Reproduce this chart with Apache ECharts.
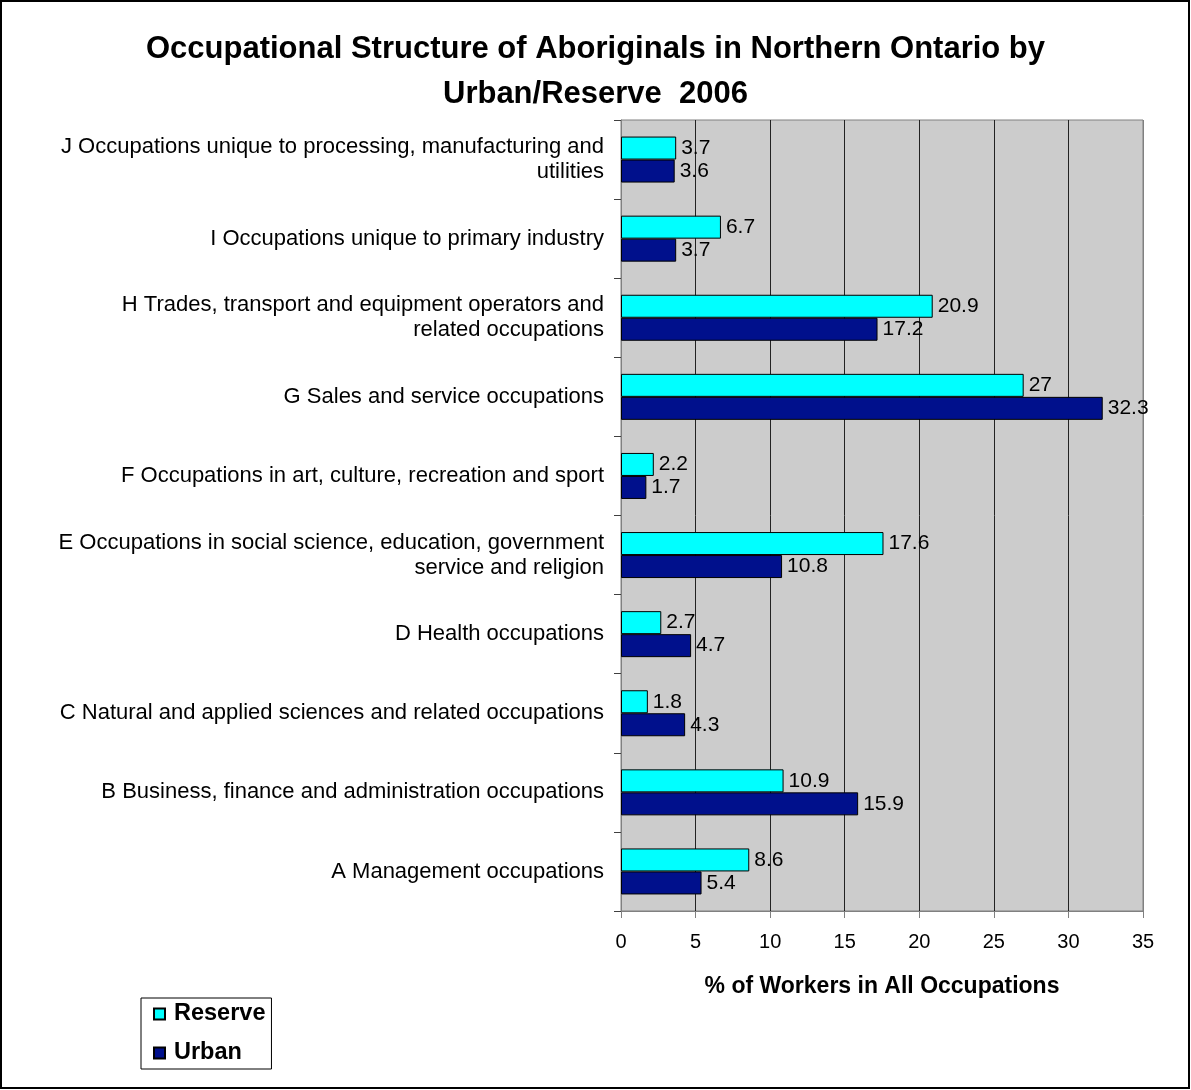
<!DOCTYPE html>
<html>
<head>
<meta charset="utf-8">
<script src="https://cdn.jsdelivr.net/npm/echarts@6/dist/echarts.min.js"></script>
<style>
html,body{margin:0;padding:0;background:#fff;}
#chart{width:1191px;height:1090px;}
</style>
</head>
<body>
<div id="chart"></div>
<script>
const categories = [
  "A Management occupations",
  "B Business, finance and administration occupations",
  "C Natural and applied sciences and related occupations",
  "D Health occupations",
  "E Occupations in social science, education, government\nservice and religion",
  "F Occupations in art, culture, recreation and sport",
  "G Sales and service occupations",
  "H Trades, transport and equipment operators and\nrelated occupations",
  "I Occupations unique to primary industry",
  "J Occupations unique to processing, manufacturing and\nutilities"
];
const reserve = [8.6, 10.9, 1.8, 2.7, 17.6, 2.2, 27, 20.9, 6.7, 3.7];
const urban   = [5.4, 15.9, 4.3, 4.7, 10.8, 1.7, 32.3, 17.2, 3.7, 3.6];
const xTicks = [0, 5, 10, 15, 20, 25, 30, 35];

const FONT = "'Liberation Sans', Arial, sans-serif";
const chart = echarts.init(document.getElementById('chart'));
const labelCfg = {show: true, position: 'right', distance: 5, color: '#000', fontSize: 21, fontFamily: FONT};
chart.setOption({
  animation: false,
  backgroundColor: '#fff',
  textStyle: {fontFamily: FONT},
  title: {
    text: 'Occupational Structure of Aboriginals in Northern Ontario by\nUrban/Reserve  2006',
    left: 'center', top: 22,
    textStyle: {fontSize: 31, fontWeight: 'bold', color: '#000', lineHeight: 45, fontFamily: FONT}
  },
  graphic: [{
    type: 'rect', silent: true, z: -1,
    shape: {x: 1, y: 1, width: 1188, height: 1087},
    style: {fill: 'none', stroke: '#000', lineWidth: 2}
  }],
  legend: {
    orient: 'vertical', left: 141, top: 998,
    data: ['Reserve', 'Urban'],
    icon: 'rect', itemWidth: 11, itemHeight: 11, itemGap: 15,
    backgroundColor: '#fff', borderColor: '#000', borderWidth: 1,
    padding: [4, 6, 4, 12],
    textStyle: {fontSize: 23.5, fontWeight: 'bold', color: '#000', lineHeight: 24, padding: [0, 0, 0, 4], fontFamily: FONT}
  },
  grid: {
    left: 621, right: 48, top: 120, bottom: 179,
    show: true, backgroundColor: '#cccccc', borderColor: '#808080', borderWidth: 1
  },
  xAxis: {
    type: 'value', min: 0, max: 35, interval: 5,
    name: '% of Workers in All Occupations', nameLocation: 'middle', nameGap: 64,
    nameTextStyle: {fontSize: 23, fontWeight: 'bold', color: '#000', fontFamily: FONT},
    axisLine: {show: true, lineStyle: {color: '#808080'}},
    axisTick: {show: true, length: 7, lineStyle: {color: '#808080'}},
    axisLabel: {fontSize: 20, color: '#000', margin: 21, fontFamily: FONT,
      formatter: v => xTicks.includes(v) ? String(v) : ''},
    splitLine: {show: true, lineStyle: {color: ['#808080','#222','#222','#222','#222','#222','#222','#808080'], width: 1}}
  },
  yAxis: {
    type: 'category', data: categories,
    axisLine: {show: true, lineStyle: {color: '#808080'}},
    axisTick: {show: true, length: 7, lineStyle: {color: '#404040'}},
    axisLabel: {fontSize: 22, color: '#000', margin: 17, lineHeight: 25, align: 'right', fontFamily: FONT},
    splitLine: {show: false}
  },
  series: [
    {name: 'Reserve', type: 'bar', data: reserve, barWidth: 23, barGap: '0%',
      itemStyle: {color: '#00ffff', borderColor: '#000', borderWidth: 1}, label: labelCfg},
    {name: 'Urban', type: 'bar', data: urban, barWidth: 23, barGap: '0%',
      itemStyle: {color: '#00108c', borderColor: '#000', borderWidth: 1}, label: labelCfg}
  ]
});
</script>
</body>
</html>
